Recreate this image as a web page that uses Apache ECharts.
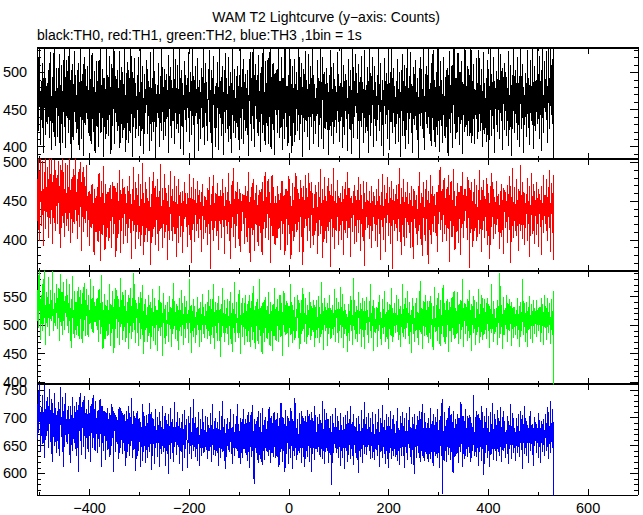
<!DOCTYPE html>
<html><head><meta charset="utf-8">
<script src="https://cdn.jsdelivr.net/npm/echarts@6/dist/echarts.min.js"></script>
<style>html,body{margin:0;padding:0;background:#fff}#c{width:643px;height:515px}#c path{shape-rendering:crispEdges}</style>
</head><body><div id="c"></div>
<script>
// first 1-s bin start time (s); one value per bin
const startTime = -505;

const th0 = [
497,438,519,421,470,533,446,402,488,459,425,512,478,391,536,452,493,416,481,440,
430,486,449,503,412,471,527,435,458,395,494,463,420,480,541,444,401,475,452,506,
468,413,499,441,525,456,389,483,431,510,462,405,492,447,534,427,476,398,517,453,
439,502,457,418,541,473,428,490,385,466,511,443,409,484,450,528,433,496,461,419,
478,424,513,451,396,487,440,535,464,411,498,436,470,387,521,458,429,505,445,482,
453,509,432,476,415,540,448,491,403,467,526,437,480,420,459,502,392,474,443,515,
426,488,460,399,517,445,471,534,418,483,437,504,454,386,492,466,427,478,410,531,
472,436,497,415,458,522,442,480,390,469,511,428,486,451,537,404,475,446,495,433,
455,503,421,479,440,528,398,466,489,430,507,448,412,484,461,536,425,470,393,499,
481,432,514,447,405,492,463,419,538,444,476,386,501,456,427,519,439,485,412,468,
437,496,458,520,414,474,443,531,401,487,450,509,424,465,390,498,434,477,452,516,
470,417,505,441,489,394,462,527,430,479,408,493,449,536,420,467,502,383,484,445,
426,483,455,512,438,471,399,495,460,421,540,447,482,409,466,504,433,490,415,476,
498,442,469,391,523,451,486,428,507,463,412,479,435,532,457,404,491,446,518,424,
453,510,431,477,418,538,444,492,397,466,503,427,485,450,389,515,461,436,496,470,
420,484,458,527,439,473,406,500,448,488,416,534,455,429,495,382,468,509,441,477,
462,431,519,447,394,490,437,474,411,506,452,483,425,541,460,402,486,445,513,428,
487,449,408,497,465,530,433,476,419,503,441,385,492,456,522,436,471,400,482,459,
425,514,452,480,396,467,535,440,489,415,458,508,430,474,389,499,447,526,418,463,
493,435,471,407,520,454,428,501,462,391,485,443,537,419,476,450,504,412,466,432,
448,509,426,482,457,395,496,439,531,466,411,488,451,518,403,472,436,498,421,479,
470,416,503,445,388,486,461,527,430,492,408,475,441,539,424,464,399,511,455,483,
437,497,452,414,523,468,433,480,393,507,444,490,419,534,458,427,474,402,515,447,
485,428,462,519,404,476,440,532,455,397,494,431,466,512,423,481,389,499,449,470,
443,505,418,471,536,450,412,488,459,425,521,466,396,493,437,478,410,540,446,463,
427,482,454,401,497,439,470,526,415,487,448,391,509,461,432,475,518,406,484,444,
500,458,421,476,443,533,409,467,494,430,512,452,386,480,438,505,461,420,529,447,
434,490,413,465,524,449,395,484,440,508,426,471,537,455,403,496,435,478,417,462,
479,441,516,457,400,492,429,472,538,446,411,487,463,520,432,397,501,451,484,424,
458,506,422,485,445,389,496,467,428,530,453,414,477,439,513,404,469,491,436,482,
419,474,448,527,433,493,459,406,486,442,535,463,398,480,427,510,450,416,498,471,
490,437,465,394,518,452,481,424,503,446,390,476,431,541,457,412,488,440,525,462,
445,499,410,472,434,511,456,385,494,468,427,522,449,483,405,477,439,530,418,460,
483,426,507,451,392,488,443,536,464,415,495,432,476,521,440,399,470,509,428,487,
454,408,497,436,470,531,421,484,447,512,401,463,438,490,387,476,455,519,430,473,
499,442,466,410,528,450,485,395,474,433,539,458,419,492,445,506,426,481,403,467,
431,489,452,518,406,477,439,500,462,386,493,448,524,414,470,435,510,457,397,482,
468,423,535,446,479,404,495,437,461,527,418,484,450,391,507,463,429,498,441,516,
436,473,409,492,455,383,487,444,520,428,466,505,432,478,412,540,451,396,483,447,
509,458,425,497,440,532,469,417,486,452,401,513,438,475,530,422,490,461,399,480,
444,500,416,471,537,435,482,393,459,515,428,490,447,405,476,521,439,468,412,494,
473,427,506,452,388,496,437,529,465,419,484,445,510,398,478,456,538,430,463,411,
492,449,418,483,526,440,470,402,501,455,431,515,466,390,487,443,476,420,533,459,
426,481,453,415,508,462,434,497,414,472,538,446,405,489,428,511,450,404,477,443,
470,519,437,485,411,468,530,444,493,421,459,504,432,475,399,527,455,486,417,466,
438,492,407,460,517,448,389,481,426,535,457,414,498,441,472,520,433,391,488,451,
477,429,502,455,420,539,463,410,490,446,524,435,471,396,506,458,484,423,513,467,
448,494,415,479,436,528,401,469,452,510,426,483,387,497,441,464,532,419,475,444,
503,432,466,521,409,486,447,399,495,458,537,424,473,438,511,392,480,453,429,499,
440,485,413,530,459,425,492,470,402,516,446,481,434,540,455,397,487,428,508,462,
421,476,450,537,431,498,463,410,522,445,489,394,474,533,438,467,418,515,452,491,
447,528,436,481,405,539,459,492,424,536,468,443,510,431,498,534,362
];

const th1 = [
472,425,506,441,398,489,455,507,418,463,432,501,447,392,480,437,509,414,468,452,
430,494,459,403,507,446,421,485,438,510,462,395,477,428,503,451,411,490,444,466,
483,420,456,502,433,470,389,496,445,415,508,452,426,488,404,465,437,499,418,460,
441,497,412,468,435,505,450,396,479,427,463,409,491,446,420,484,438,506,455,424,
466,401,488,432,459,417,500,443,475,386,461,429,494,410,452,481,422,469,437,496,
452,404,458,426,463,392,459,438,415,471,433,472,418,447,381,466,429,454,410,457,
421,468,397,443,486,412,455,373,439,476,407,461,428,495,419,448,387,472,431,404,
459,416,462,434,399,467,441,471,425,390,453,430,474,408,445,420,469,436,378,462,
427,473,402,450,418,490,437,383,464,411,446,428,479,395,456,433,468,405,442,421,
448,396,470,430,415,482,441,409,459,376,437,465,424,494,412,451,427,388,474,439,
410,458,433,485,401,444,423,472,392,453,435,499,418,461,380,447,428,475,406,440,
466,421,397,450,429,481,412,443,368,459,432,476,404,438,488,417,455,393,470,426,
437,479,408,455,386,463,425,498,414,444,431,389,467,420,452,403,485,436,410,461,
419,450,374,471,428,442,400,489,433,457,411,466,398,444,426,482,407,449,430,378,
470,415,445,396,478,431,458,404,462,422,448,383,463,436,410,475,427,461,441,417,
434,460,391,447,423,485,406,454,429,370,468,439,413,480,420,451,397,465,432,446,
412,476,441,403,458,427,464,418,449,385,462,433,472,401,444,426,457,409,455,430,
452,394,467,421,439,481,408,445,363,459,424,470,436,399,483,415,448,428,461,405,
429,473,411,456,387,442,457,420,464,432,403,478,447,417,460,435,382,468,426,451,
444,408,462,425,486,399,450,437,376,471,415,456,430,492,404,446,421,463,390,438,
418,475,434,452,401,466,427,384,460,443,412,459,436,458,421,447,395,469,428,456,
440,397,463,416,487,431,449,372,455,424,468,407,441,478,413,452,386,460,433,419,
471,426,445,392,458,418,464,437,409,466,430,381,475,447,414,452,423,488,402,439,
415,456,433,479,400,441,462,427,370,450,418,483,436,405,468,429,447,393,457,422,
448,402,470,431,459,414,452,436,387,461,425,476,408,443,457,420,458,381,466,434,
427,465,394,449,419,482,437,408,456,375,444,429,473,412,451,398,468,433,421,486,
454,410,440,465,423,461,385,447,430,477,404,458,439,368,470,426,452,416,483,435,
418,467,399,444,428,486,411,453,390,463,432,475,405,446,421,393,459,437,471,412,
462,425,443,382,474,416,455,434,491,408,447,420,466,377,452,429,481,401,440,457,
431,396,469,438,412,480,423,449,365,458,427,472,404,441,493,415,450,388,463,426,
448,411,477,430,456,393,442,454,419,461,400,437,470,424,453,381,466,433,409,475,
425,458,402,488,436,416,467,443,378,454,428,457,410,447,432,463,395,471,439,418,
451,397,464,426,481,409,445,434,472,386,458,421,440,404,476,430,366,460,437,413,
474,429,452,415,450,437,401,463,425,448,389,469,433,412,462,441,420,457,398,445,
419,466,391,450,427,478,408,456,436,374,462,431,485,417,444,400,471,428,453,384,
460,422,439,481,405,447,430,468,395,454,418,476,437,362,465,426,450,411,459,433,
415,471,443,398,458,427,492,410,446,433,381,467,421,455,404,478,436,392,462,428,
449,403,475,432,419,446,441,460,389,452,426,470,409,444,375,466,431,463,416,451,
426,458,394,440,412,469,435,488,401,447,423,461,379,455,430,474,418,442,399,465,
438,477,416,452,369,463,429,447,406,484,433,395,470,421,456,410,441,459,427,445,
405,462,431,385,471,420,449,436,494,413,458,426,466,397,443,432,480,408,454,419,
447,399,468,430,414,483,437,372,459,425,476,440,404,452,418,491,428,463,387,444,
421,456,410,473,435,396,462,427,448,380,470,433,416,487,441,403,458,424,466,437,
459,415,444,400,481,428,453,364,467,436,409,475,422,450,391,462,431,479,411,446,
427,471,398,442,419,464,433,490,407,451,425,384,468,439,413,477,445,402,456,430,
453,412,480,434,393,461,426,448,375,470,438,417,486,429,455,401,466,420,443,408,
440,476,419,457,432,459,410,445,388,463,428,472,404,451,423,382,467,436,464,415,
462,423,447,396,471,430,458,413,482,437,370,455,426,493,418,449,403,468,433,411,
429,478,405,452,436,386,465,421,444,497,412,458,431,401,474,440,419,461,394,447,
416,459,437,480,399,450,427,469,378,444,413,486,432,457,408,472,425,395,463,438,
451,406,474,428,445,391,466,434,459,417,452,381,470,426,446,409,483,431,458,420,
437,479,412,455,398,468,429,490,416,447,384,473,433,461,409,484,374
];

const th2 = [
561,508,587,495,540,596,519,474,553,528,489,571,502,545,597,513,535,466,558,520,
497,549,526,584,481,537,510,562,507,543,516,594,490,528,503,556,498,539,521,572,
531,493,565,512,548,472,590,524,499,557,536,483,576,507,542,491,529,551,515,580,
506,553,487,539,518,571,494,530,460,546,512,585,501,527,478,560,515,541,483,533,
542,498,567,520,475,549,531,561,505,537,468,556,523,490,574,509,544,481,528,563,
511,535,479,552,502,526,503,580,517,494,548,529,486,569,507,540,505,533,514,498,
547,492,530,471,563,509,538,484,522,588,497,541,459,527,503,555,476,518,535,490,
508,544,481,526,499,572,514,463,536,520,487,559,504,531,452,545,517,493,565,511,
529,478,551,505,539,466,521,583,496,543,512,474,557,518,489,534,507,562,470,525,
497,540,515,458,552,527,486,564,509,533,475,548,501,519,591,492,530,468,544,512,
538,487,521,463,549,503,529,476,557,511,494,570,482,525,449,536,508,545,491,518,
495,532,470,514,552,486,527,459,541,506,480,563,499,522,473,547,512,465,533,501,
526,454,517,544,489,508,568,481,530,497,539,446,521,503,556,478,514,535,467,509,
488,541,502,523,470,550,515,493,531,461,519,545,484,507,574,498,528,475,512,537,
505,473,534,516,457,548,490,526,509,481,562,500,538,465,520,494,551,511,477,529,
542,496,518,469,527,503,581,487,513,535,452,524,499,546,479,510,533,468,506,522,
483,514,549,497,528,462,516,540,491,507,470,555,520,485,531,504,478,537,511,493,
525,476,508,561,489,534,503,467,545,518,482,529,496,572,510,458,523,499,541,486,
501,538,473,519,550,492,527,445,513,536,480,506,564,490,522,471,544,509,487,530,
517,484,546,505,466,531,498,558,476,521,509,453,539,495,528,486,575,502,470,514,
540,493,512,478,529,561,487,518,450,534,501,547,480,515,496,527,465,552,508,490,
524,471,537,506,489,553,519,462,530,497,542,511,474,568,503,485,526,458,516,535,
498,545,510,467,528,492,580,514,481,533,505,449,521,540,487,512,470,549,495,526,
513,476,534,502,557,484,519,463,541,508,490,526,455,537,515,481,564,497,528,473,
531,499,546,518,470,525,492,553,506,479,538,512,446,523,501,560,488,516,535,483,
507,542,486,520,461,534,511,495,571,482,517,540,468,509,527,490,549,474,514,500,
489,528,513,552,477,505,538,459,522,496,543,485,519,565,494,530,471,511,548,502,
518,467,535,497,526,483,557,509,474,540,503,481,529,515,488,544,499,462,531,507,
544,492,515,478,550,506,531,468,520,497,576,485,512,538,457,524,501,547,490,516,
495,527,463,539,510,484,553,502,476,530,519,477,535,493,521,482,563,508,471,526,
512,548,487,523,469,541,505,490,567,513,478,532,496,555,460,518,536,484,509,527,
481,519,504,453,537,496,525,473,550,508,489,544,465,517,499,582,491,528,476,514,
533,498,470,526,512,557,485,520,494,539,462,511,547,503,480,524,458,542,506,491,
549,503,527,482,515,468,538,509,572,490,521,477,534,499,544,455,516,530,486,510,
496,531,461,518,540,489,507,553,475,522,501,466,546,512,484,529,497,560,470,514,
523,479,541,506,458,527,494,536,511,483,565,502,471,530,515,479,538,499,521,487,
508,552,490,517,474,545,503,528,462,534,497,519,486,571,509,480,537,493,548,476,
530,495,514,559,482,521,467,540,505,488,526,452,518,547,499,533,470,512,490,539,
501,548,478,523,510,465,536,492,577,507,484,529,515,459,542,498,520,481,553,496,
527,483,515,542,469,531,504,487,550,476,519,538,493,511,456,534,502,566,488,513,
490,535,508,472,556,517,495,529,463,544,503,484,521,498,570,480,512,539,467,526,
514,479,546,501,527,453,518,541,489,532,506,470,549,495,523,482,560,509,476,530,
497,524,485,558,511,467,536,502,520,476,543,491,514,580,498,461,529,507,538,484,
533,499,517,473,545,508,490,561,478,526,512,455,537,501,524,486,550,494,518,465,
506,541,482,528,515,563,496,520,469,537,503,488,552,511,474,530,499,546,485,522,
517,475,539,502,548,489,526,460,533,509,494,571,487,519,505,542,471,528,497,513,
488,530,511,466,544,503,522,478,591,507,485,536,496,520,458,549,512,483,527,500,
529,494,553,508,471,537,516,489,545,502,527,464,540,510,493,532,478,531,505,519,
483,526,507,548,475,519,498,534,461,512,541,490,523,505,580,482,515,496,538,470,
521,487,540,503,462,531,509,551,493,517,476,536,499,524,468,543,511,485,529,502,
508,544,479,526,513,490,529,501,532,470,518,547,486,510,537,465,523,497,552,514,
495,530,474,517,548,486,522,503,539,467,515,491,546,505,482,559,390
];

const th3 = [
725,661,748,672,703,761,684,639,719,695,652,741,678,710,627,758,697,660,730,668,
681,738,703,645,752,689,714,656,733,677,620,726,692,708,649,745,670,717,636,699,
707,658,729,683,631,716,694,756,666,701,673,737,612,712,688,647,744,669,698,676,
652,714,679,721,660,697,618,722,671,705,640,738,686,699,655,722,664,710,632,728,
694,645,723,603,709,676,744,659,690,633,728,681,702,648,739,668,687,625,715,677,
662,706,638,731,684,667,711,621,725,673,698,646,740,664,716,689,641,730,670,700,
690,637,714,662,695,648,733,671,704,611,721,655,697,640,712,668,686,624,710,659,
673,717,642,698,661,709,629,705,680,650,724,663,694,603,712,676,689,638,705,656,
701,652,684,715,626,720,667,645,717,660,691,634,709,678,654,706,641,694,613,712,
662,698,639,722,677,631,708,669,650,736,658,689,627,713,673,644,703,682,604,709,
679,631,712,640,688,656,699,612,693,647,674,623,725,661,638,704,650,686,618,705,
648,690,627,707,663,638,726,652,681,606,711,669,632,697,658,685,617,716,645,678,
672,629,701,655,687,612,710,644,694,666,635,721,650,680,639,703,661,614,708,673,
641,688,659,598,706,651,679,626,718,654,673,637,697,662,620,729,647,683,656,692,
633,675,711,648,686,617,700,657,640,693,668,605,707,651,679,627,714,660,644,697,
678,643,609,704,655,690,634,719,650,674,625,699,661,641,733,648,682,630,701,664,
643,683,622,710,652,669,613,697,646,678,631,716,657,636,692,667,638,704,648,675,
664,626,701,641,687,654,640,708,647,673,620,725,651,680,633,694,659,632,699,640,
681,637,692,656,613,713,646,674,628,703,652,639,731,644,684,622,697,661,608,688,
630,699,649,676,642,693,638,668,716,635,682,655,617,707,645,673,631,689,645,704,
659,640,724,628,688,650,677,616,700,637,692,659,628,715,643,681,644,698,652,633,
691,622,670,711,639,664,610,705,648,684,629,723,641,676,655,580,697,646,688,667,
637,702,656,619,713,648,683,626,709,652,674,615,718,640,687,661,624,701,645,680,
656,639,694,669,631,720,642,677,618,704,653,636,690,662,629,711,647,683,628,697,
672,630,708,647,685,612,699,654,638,727,643,674,621,701,659,640,689,603,714,651,
634,686,655,703,617,676,643,695,627,717,650,668,608,698,641,682,631,736,645,663,
681,624,697,649,670,641,709,637,688,654,618,713,645,677,630,700,656,612,704,662,
641,692,630,714,650,675,620,706,646,684,603,710,657,635,695,667,624,722,644,679,
658,644,701,639,688,652,633,707,663,629,691,646,730,625,680,655,617,716,638,673,
646,709,667,641,698,619,682,648,703,633,674,579,706,653,637,690,669,652,718,645,
683,636,662,704,628,695,647,676,613,709,640,687,659,627,701,645,680,607,705,657,
641,689,620,712,655,633,698,668,625,721,644,677,632,693,615,706,651,685,637,670,
699,628,677,646,600,704,640,688,661,630,714,643,682,619,697,665,635,729,647,683,
633,702,654,648,708,662,641,684,626,699,649,675,628,711,638,688,653,624,706,644,
680,642,693,631,715,651,674,612,700,639,690,657,627,723,648,684,634,696,667,617,
707,641,685,652,609,701,660,637,712,646,679,625,697,654,631,705,643,689,662,630,
694,654,622,717,641,682,658,615,703,645,691,631,710,663,640,686,610,699,651,677,
636,709,653,624,696,670,645,719,629,684,658,617,702,642,689,665,599,707,648,680,
662,627,704,649,685,636,713,655,620,698,671,641,725,632,682,648,623,709,638,693,
675,634,690,653,621,700,642,681,626,718,656,639,695,665,613,706,647,687,632,702,
644,693,628,715,659,637,681,609,704,650,689,631,733,562,676,652,622,710,641,685,
667,620,699,648,683,633,721,646,674,624,706,655,638,692,601,712,643,681,630,698,
651,689,635,707,664,618,700,647,685,639,729,652,676,612,704,658,634,694,626,716,
642,681,654,629,703,648,692,636,705,663,621,690,645,683,640,741,653,675,631,701,
688,629,712,646,678,614,707,661,639,696,652,623,721,644,685,659,597,703,648,692,
636,717,655,682,627,704,646,675,612,710,658,689,635,726,643,679,624,707,662,641,
697,650,622,714,667,638,699,680,631,719,647,684,620,702,659,640,712,646,690,628,
671,652,678,634,703,617,694,669,643,724,651,686,626,708,657,636,699,645,681,662,
623,700,649,685,637,706,648,676,630,713,661,642,697,608,705,654,688,635,721,667,
646,694,632,687,659,681,619,704,663,641,713,652,687,633,688,672,614,701,649,693,
675,636,688,655,682,627,709,648,696,667,618,695,658,689,639,697,651,678,631,706,
663,691,641,720,670,625,711,652,685,636,730,657,679,646,716,672,540
];

// axis tick labels
const xTickLabels = [-400, -200, 0, 200, 400, 600];
const xMinorTicks = [-500, -300, -100, 100, 300, 500];
const yLabels0 = [400, 450, 500];
const yLabels1 = [400, 450, 500];
const yLabels2 = [400, 450, 500, 550];
const yLabels3 = [600, 650, 700, 750];

const titleText = 'WAM T2 Lightcurve (y\u2212axis: Counts)';
const subText = 'black:TH0, red:TH1, green:TH2, blue:TH3 ,1bin = 1s';

const FONT = '"Liberation Sans", Arial, Helvetica, sans-serif';
const X_MIN = -505, X_MAX = 700;

const panels = [
  {data: th0, labels: yLabels0, color: '#000000', min: 383.5, max: 532.7, top: 48,  height: 111},
  {data: th1, labels: yLabels1, color: '#ff0000', min: 360,   max: 504.2, top: 159, height: 112},
  {data: th2, labels: yLabels2, color: '#00ff00', min: 397,   max: 594.6, top: 271, height: 113},
  {data: th3, labels: yLabels3, color: '#0000ff', min: 561,   max: 760.7, top: 384, height: 112}
];

const chart = echarts.init(document.getElementById('c'), null, {renderer: 'svg'});
const grids = [], xAxes = [], yAxes = [], series = [];
const axisCol = '#000';
const noLine = {show: false, onZero: false};

panels.forEach((p, i) => {
  grids.push({left: 36, width: 602, top: p.top, height: p.height});
  const last = i === panels.length - 1;
  const xb = {type: 'value', gridIndex: i, min: X_MIN, max: X_MAX, splitLine: {show: false}, axisLabel: {show: false}};
  const xLine = w => ({show: true, onZero: false, lineStyle: {color: axisCol, width: w}});
  xAxes.push(Object.assign({}, xb, {
    position: 'bottom',
    axisLine: xLine(last ? 1 : 1.5),
    axisTick: {show: true, inside: true, length: 6, customValues: xTickLabels, lineStyle: {color: axisCol, width: 1.3}},
    axisLabel: last ? {show: true, customValues: xTickLabels, color: '#000', fontSize: 14.5, fontFamily: FONT, margin: 5,
      formatter: v => String(v).replace('-', '\u2212')} : {show: false}
  }));
  xAxes.push(Object.assign({}, xb, {position: 'bottom', axisLine: noLine,
    axisTick: {show: true, inside: true, length: 3, customValues: xMinorTicks, lineStyle: {color: axisCol, width: 1}}}));
  xAxes.push(Object.assign({}, xb, {position: 'top', axisLine: xLine(1.5),
    axisTick: {show: true, inside: true, length: 6, customValues: xTickLabels, lineStyle: {color: axisCol, width: 1.3}}}));
  xAxes.push(Object.assign({}, xb, {position: 'top', axisLine: noLine,
    axisTick: {show: true, inside: true, length: 3, customValues: xMinorTicks, lineStyle: {color: axisCol, width: 1}}}));

  const minor = [];
  for (let v = Math.ceil(p.min / 10) * 10; v <= p.max; v += 10) if (v % 50 !== 0) minor.push(v);
  const major = [];
  for (let v = Math.ceil(p.min / 50) * 50; v <= p.max; v += 50) major.push(v);
  const yb = {type: 'value', gridIndex: i, min: p.min, max: p.max, splitLine: {show: false}, axisLabel: {show: false}};
  const yLine = {show: true, onZero: false, lineStyle: {color: axisCol, width: 1}};
  yAxes.push(Object.assign({}, yb, {position: 'left', axisLine: yLine,
    axisTick: {show: true, inside: true, length: 8, customValues: major, lineStyle: {color: axisCol, width: 1}},
    axisLabel: {show: true, customValues: p.labels, color: '#000', fontSize: 14.5, fontFamily: FONT, margin: 10}}));
  yAxes.push(Object.assign({}, yb, {position: 'left', axisLine: noLine,
    axisTick: {show: true, inside: true, length: 4, customValues: minor, lineStyle: {color: axisCol, width: 1}}}));
  yAxes.push(Object.assign({}, yb, {position: 'right', axisLine: yLine,
    axisTick: {show: true, inside: true, length: 8, customValues: major, lineStyle: {color: axisCol, width: 1}}}));
  yAxes.push(Object.assign({}, yb, {position: 'right', axisLine: noLine,
    axisTick: {show: true, inside: true, length: 4, customValues: minor, lineStyle: {color: axisCol, width: 1}}}));

  series.push({
    type: 'line', xAxisIndex: i * 4, yAxisIndex: i * 4, step: 'end',
    showSymbol: false, symbol: 'none', clip: true, silent: true,
    lineStyle: {color: p.color, width: 1},
    data: p.data.map((v, k) => [startTime + k, v])
  });
});

chart.setOption({
  animation: false,
  backgroundColor: '#ffffff',
  grid: grids, xAxis: xAxes, yAxis: yAxes, series: series,
  graphic: [
    {type: 'text', x: 326, y: 17, style: {text: titleText, fontSize: 14, fontFamily: FONT, fill: '#000', textAlign: 'center', textVerticalAlign: 'middle'}},
    {type: 'text', x: 37, y: 35, style: {text: subText, fontSize: 14, fontFamily: FONT, fill: '#000', textAlign: 'left', textVerticalAlign: 'middle'}}
  ]
});
</script></body></html>
